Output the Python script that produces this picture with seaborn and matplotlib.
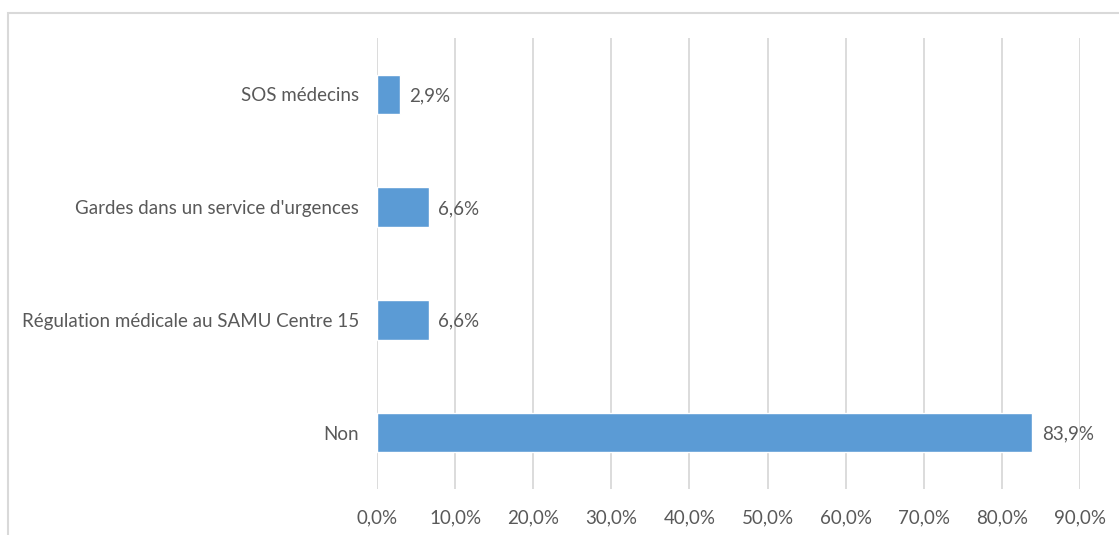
import matplotlib
matplotlib.use("Agg")
import matplotlib.pyplot as plt
import seaborn as sns
import pandas as pd
from matplotlib.patches import Rectangle

categories = ["SOS médecins", "Gardes dans un service d'urgences",
              "Régulation médicale au SAMU Centre 15", "Non"]
values = [2.9, 6.6, 6.6, 83.9]
ticks = [0, 10, 20, 30, 40, 50, 60, 70, 80, 90]

df = pd.DataFrame({"cat": categories, "val": values})

sns.set_style("white")
plt.rcParams["font.family"] = ["Lato", "DejaVu Sans"]
txt = "#595959"
grid = "#D9D9D9"

fig = plt.figure(figsize=(11.19, 5.35), dpi=100)
ax = fig.add_axes([377 / 1119, 46 / 535, 703 / 1119, 451 / 535])

sns.barplot(data=df, x="val", y="cat", orient="h", color="#5B9BD5",
            width=0.35, saturation=1, ax=ax, zorder=3)

ax.set_xlim(0, 90)
ax.set_ylim(3.5, -0.5)
ax.set_xticks(ticks)
ax.set_xticklabels([f"{t:.1f}%".replace(".", ",") for t in ticks])
ax.grid(axis="x", color=grid, linewidth=1.3, zorder=0)
ax.set_axisbelow(True)
for s in ax.spines.values():
    s.set_visible(False)
ax.tick_params(axis="both", length=0, colors=txt, labelsize=13.5)
ax.tick_params(axis="x", pad=15)
ax.tick_params(axis="y", pad=13)
ax.set_xlabel("")
ax.set_ylabel("")

for i, v in enumerate(values):
    ax.annotate(f"{v:.1f}%".replace(".", ","), (v, i), xytext=(7, -1),
                textcoords="offset points", va="center", ha="left",
                color=txt, fontsize=13.5)

fig.patches.append(Rectangle((8 / 1119, -0.1), 1.2, (535 - 13) / 535 + 0.1,
                             transform=fig.transFigure, fill=False,
                             edgecolor=grid, linewidth=1.5))

fig.savefig("out.png", dpi=100)
